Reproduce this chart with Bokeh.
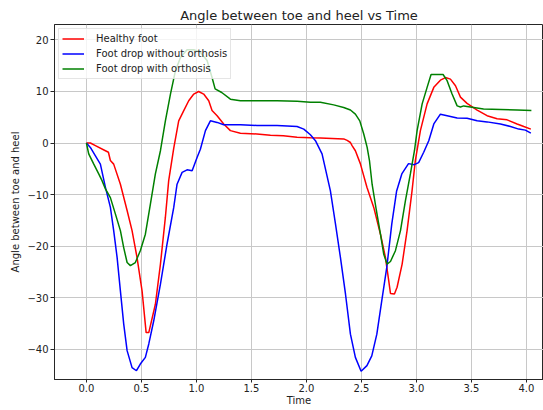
from bokeh.plotting import figure
from bokeh.models import Range1d, FixedTicker, CustomJSTickFormatter
from bokeh.embed import file_html
from bokeh.resources import INLINE

# ---------------- data ----------------
healthy_t = [0, 0.036, 0.082, 0.173, 0.2, 0.218, 0.248, 0.309, 0.37, 0.415, 0.46, 0.506, 0.543, 0.567,
             0.627, 0.673, 0.718, 0.748, 0.794, 0.839, 0.885, 0.93, 0.976, 1.02, 1.066, 1.112, 1.142,
             1.188, 1.248, 1.309, 1.4, 1.55, 1.673, 1.79, 1.915, 2.036, 2.127, 2.339, 2.37, 2.4, 2.415,
             2.445, 2.49, 2.55, 2.612, 2.673, 2.718, 2.748, 2.764, 2.8, 2.824, 2.87, 2.915, 2.96, 2.99,
             3.036, 3.097, 3.158, 3.218, 3.264, 3.309, 3.355, 3.4, 3.46, 3.552, 3.642, 3.733, 3.824,
             3.915, 3.976, 4.04]
healthy_y = [0, 0, -0.5, -1.5, -1.8, -3.4, -4.1, -8, -13.1, -17, -22.2, -28.7, -36.8, -36.8,
             -31.3, -23.5, -14.4, -7.3, -1.0, 4.3, 6.3, 8.2, 9.5, 10.0, 9.5, 8.2, 6.3,
             5.3, 3.7, 2.4, 1.9, 1.75, 1.5, 1.4, 1.1, 1.0, 0.97, 0.8, 0.5, 0.1, -0.5,
             -1.5, -4.0, -8.6, -12.5, -17.7, -22.2, -26.7, -29.2, -29.3, -28.0, -23.5, -17, -9.3, -3.4,
             2.4, 7.6, 10.8, 12.2, 12.7, 12.4, 11.1, 8.9, 7.7, 6.4, 5.3, 4.7, 4.5,
             3.7, 3.2, 2.7]

without_t = [0, 0.036, 0.082, 0.127, 0.173, 0.218, 0.248, 0.279, 0.309, 0.339, 0.37, 0.415, 0.455,
             0.49, 0.536, 0.567, 0.612, 0.673, 0.733, 0.794, 0.824, 0.87, 0.915, 0.961, 1.006, 1.036,
             1.082, 1.127, 1.188, 1.248, 1.4, 1.55, 1.733, 1.915, 1.976, 2.036, 2.082, 2.142, 2.218,
             2.264, 2.309, 2.355, 2.4, 2.445, 2.497, 2.55, 2.594, 2.64, 2.685, 2.73, 2.776, 2.82,
             2.867, 2.928, 2.98, 3.02, 3.066, 3.112, 3.158, 3.218, 3.279, 3.37, 3.46, 3.552, 3.642,
             3.764, 3.855, 3.93, 3.99, 4.04]
without_y = [0, -0.85, -2.5, -4.1, -8.6, -12.5, -17, -22.2, -28.7, -35.1, -40.3, -43.6, -44.2,
             -42.9, -41.6, -39, -34.5, -27.4, -19.6, -12.5, -8, -5.7, -5.2, -5.4, -2.8, -1.2,
             2.4, 4.3, 4.0, 3.55, 3.55, 3.4, 3.4, 3.2, 2.7, 1.6, 0.45, -2.1, -9.3,
             -15.7, -22.2, -29.3, -37.1, -41.6, -44.3, -43.2, -41.3, -37.1, -30.6, -24.2, -15.7, -9.3,
             -6.0, -4.0, -4.2, -3.8, -1.8, 0.45, 3.7, 5.6, 5.3, 4.85, 4.8, 4.3, 4.1,
             3.7, 3.2, 2.7, 2.5, 1.9]

with_t = [0, 0.021, 0.067, 0.112, 0.142, 0.173, 0.218, 0.264, 0.309, 0.339, 0.37, 0.4, 0.445, 0.49,
          0.536, 0.582, 0.627, 0.673, 0.718, 0.764, 0.809, 0.855, 0.915, 0.976, 1.036, 1.097, 1.142,
          1.17, 1.23, 1.309, 1.4, 1.55, 1.733, 1.915, 2.036, 2.127, 2.248, 2.339, 2.4, 2.445, 2.485,
          2.521, 2.552, 2.573, 2.597, 2.636, 2.673, 2.703, 2.733, 2.764, 2.809, 2.855, 2.9, 2.945,
          2.982, 3.006, 3.052, 3.097, 3.133, 3.188, 3.242, 3.279, 3.324, 3.37, 3.4, 3.43, 3.52,
          3.61, 3.764, 3.915, 4.045]
with_y = [0, -2.1, -4.1, -6.0, -7.3, -8.9, -10.6, -13.8, -17, -20.3, -23.2, -23.8, -23.2, -20.9,
          -17.7, -11.8, -6.0, -1.5, 4.3, 9.5, 14.0, 16.6, 18.1, 18.1, 17.6, 16.0, 12.7,
          10.5, 9.8, 8.5, 8.2, 8.2, 8.2, 8.1, 7.9, 7.9, 7.4, 6.9, 6.4, 5.6, 4.3,
          1.75, -0.85, -3.4, -8, -13.1, -17.7, -21.6, -23.5, -23, -20.9, -17, -11.2, -6,
          -1.5, 2.4, 7.6, 10.8, 13.3, 13.3, 13.3, 12.1, 9.5, 7.2, 7.0, 7.2, 6.9,
          6.6, 6.5, 6.4, 6.3]

x_ticks = [0.0, 0.5, 1.0, 1.5, 2.0, 2.5, 3.0, 3.5, 4.0]
y_ticks = [-40, -30, -20, -10, 0, 10, 20]

series_labels = ["Healthy foot", "Foot drop without orthosis", "Foot drop with orthosis"]
title_text = "Angle between toe and heel vs Time"
x_label = "Time"
y_label = "Angle between toe and heel"

# ---------------- figure ----------------
FONT = "DejaVu Sans"
p = figure(width=543, height=410, output_backend="svg", toolbar_location=None,
           x_range=Range1d(-0.29, 4.155), y_range=Range1d(-45.9, 23.0),
           min_border_left=54, min_border_right=0, min_border_top=24, min_border_bottom=31,
           title=title_text)
p.background_fill_color = "white"
p.border_fill_color = "white"
p.outline_line_color = "#262626"
p.outline_line_width = 1

p.title.align = "center"
p.title.text_font = FONT
p.title.text_font_size = "13px"
p.title.text_font_style = "normal"
p.title.text_color = "#222222"
p.title.standoff = 4
p.title.offset = 0

colors = ["#ff0000", "#0000ff", "#008000"]
for tt, yy, c, lab in [(healthy_t, healthy_y, colors[0], series_labels[0]),
                       (without_t, without_y, colors[1], series_labels[1]),
                       (with_t, with_y, colors[2], series_labels[2])]:
    p.line(tt, yy, line_color=c, line_width=1.5, legend_label=lab)

for ax in (p.xaxis[0], p.yaxis[0]):
    ax.axis_line_color = "#262626"
    ax.major_tick_line_color = "#262626"
    ax.major_tick_out = 4
    ax.major_tick_in = 0
    ax.minor_tick_line_color = None
    ax.major_label_text_font = FONT
    ax.major_label_text_font_size = "10px"
    ax.major_label_text_color = "#222222"
    ax.axis_label_text_font = FONT
    ax.axis_label_text_font_size = "10px"
    ax.axis_label_text_font_style = "normal"
    ax.axis_label_text_color = "#222222"
    ax.major_label_standoff = 2
    ax.axis_label_standoff = 3

p.xaxis.ticker = FixedTicker(ticks=x_ticks)
p.yaxis.ticker = FixedTicker(ticks=y_ticks)
p.xaxis.formatter = CustomJSTickFormatter(code="return tick.toFixed(1);")
p.yaxis.formatter = CustomJSTickFormatter(
    code="return (tick < 0 ? '\\u2212' : '') + Math.abs(tick).toFixed(0);")
p.xaxis.axis_label = x_label
p.yaxis.axis_label = y_label
p.xaxis.axis_label_standoff = 0
p.xaxis.major_label_standoff = 1
p.xaxis.major_tick_out = 3

p.grid.grid_line_color = "#c8c8c8"
p.grid.grid_line_width = 1

lg = p.legend[0]
lg.location = "top_left"
lg.margin = 4
lg.padding = 3
lg.spacing = 2
lg.glyph_width = 22
lg.glyph_height = 13
lg.label_height = 13
lg.label_standoff = 12
lg.label_text_font = FONT
lg.label_text_font_size = "10px"
lg.label_text_color = "#222222"
lg.border_line_color = "#cccccc"
lg.border_line_width = 1
lg.background_fill_alpha = 0.8

open("out.html", "w").write(file_html(p, INLINE))
